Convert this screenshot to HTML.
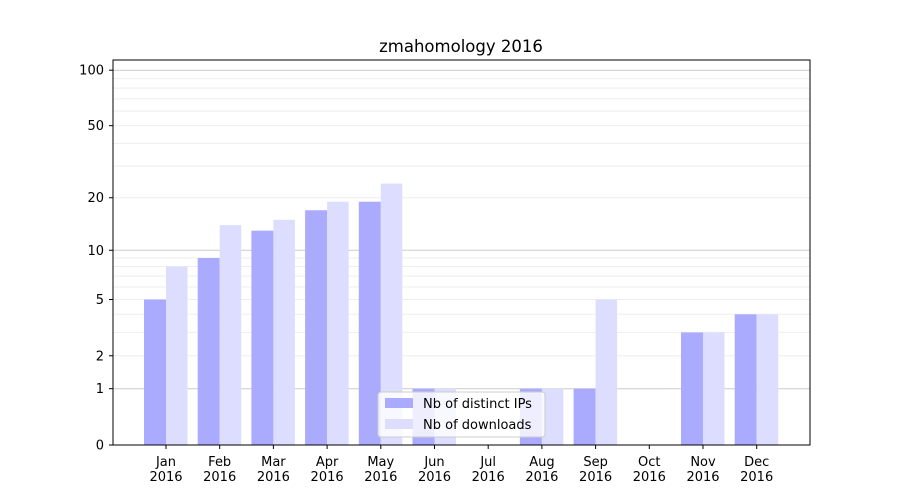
<!DOCTYPE html>
<html><head><meta charset="utf-8"><style>
body{margin:0;background:#fff}
svg{display:block;font-family:"DejaVu Sans","Liberation Sans",sans-serif}
</style></head><body>
<svg width="900" height="500" xmlns="http://www.w3.org/2000/svg">
<rect width="900" height="500" fill="#fff"/>
<g id="grid"></g>
<g id="bars"></g>
<rect x="113" y="60" width="697" height="385" fill="none" stroke="#000" stroke-width="1"/>
<g id="ticks" font-size="13" fill="#000"></g>
<text x="461" y="52" font-size="16.5" text-anchor="middle">zmahomology 2016</text>
<g>
<rect x="378" y="392" width="167" height="45" rx="3" fill="#fff" fill-opacity="0.8" stroke="#ccc"/>
<rect x="385" y="398" width="28" height="10" fill="#aaaaff"/>
<text x="423" y="408" font-size="13">Nb of distinct IPs</text>
<rect x="385" y="419" width="28" height="10" fill="#ddddff"/>
<text x="423" y="429" font-size="13">Nb of downloads</text>
</g>
</svg>
<script>
const Y=v=>445-187*Math.log10(1+v);
const ns="http://www.w3.org/2000/svg";
function el(p,t,a,txt){const e=document.createElementNS(ns,t);for(const k in a)e.setAttribute(k,a[k]);if(txt!=null)e.textContent=txt;document.getElementById(p).appendChild(e);}
[2,3,4,5,6,7,8,9,20,30,40,50,60,70,80,90].forEach(v=>el("grid","line",{x1:113,x2:810,y1:Y(v),y2:Y(v),stroke:"#eeeeee","stroke-width":1}));
[1,10,100].forEach(v=>el("grid","line",{x1:113,x2:810,y1:Y(v),y2:Y(v),stroke:"#cccccc","stroke-width":1}));
const ips=[5,9,13,17,19,1,0,1,1,0,3,4],dl=[8,14,15,19,24,1,0,1,5,0,3,4];
const m=["Jan","Feb","Mar","Apr","May","Jun","Jul","Aug","Sep","Oct","Nov","Dec"];
for(let i=0;i<12;i++){const c=166+i*53.7;
 if(ips[i]>0)el("bars","rect",{x:c-22,y:Y(ips[i]),width:22,height:445-Y(ips[i]),fill:"#aaaaff"});
 if(dl[i]>0)el("bars","rect",{x:c,y:Y(dl[i]),width:21.5,height:445-Y(dl[i]),fill:"#ddddff"});
 el("ticks","line",{x1:c,x2:c,y1:445,y2:449,stroke:"#000"});
 el("ticks","text",{x:c,y:466,"text-anchor":"middle"},m[i]);
 el("ticks","text",{x:c,y:481,"text-anchor":"middle"},"2016");
}
[0,1,2,5,10,20,50,100].forEach(v=>{el("ticks","line",{x1:109,x2:113,y1:Y(v),y2:Y(v),stroke:"#000"});
 el("ticks","text",{x:104,y:Y(v)+4.5,"text-anchor":"end"},v);});
</script>
</body></html>
